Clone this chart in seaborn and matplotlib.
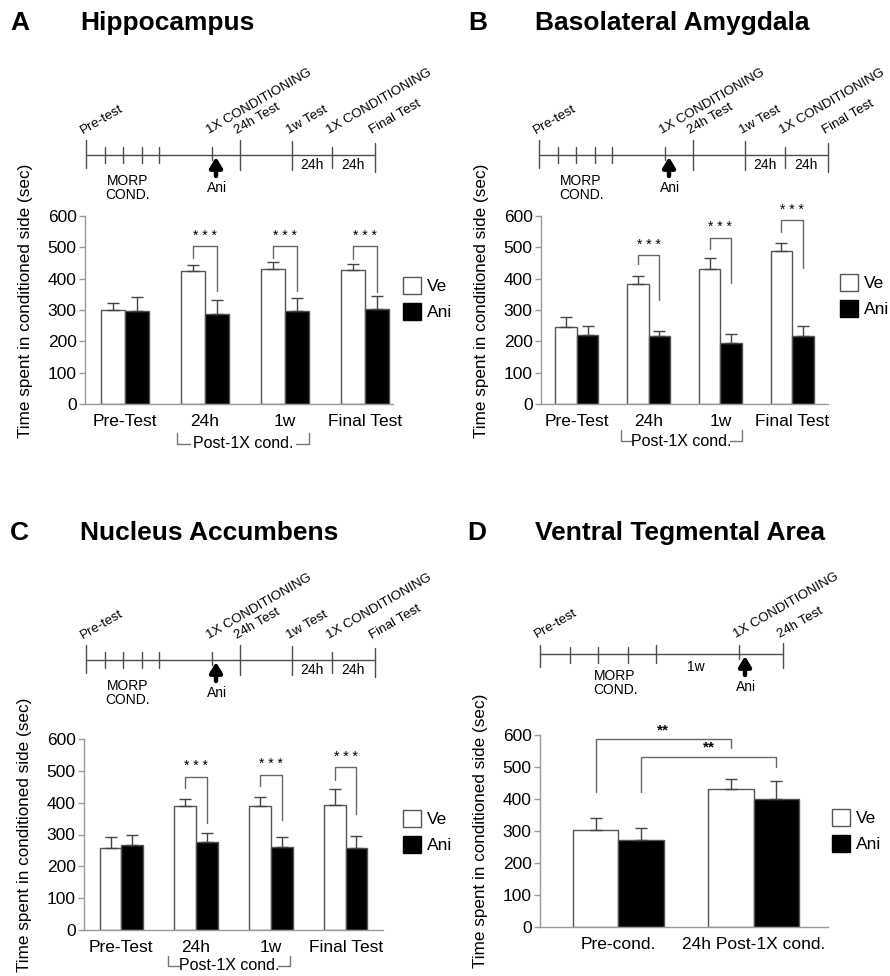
import matplotlib
matplotlib.use("Agg")
import matplotlib.pyplot as plt
import seaborn as sns
import numpy as np
import pandas as pd
from matplotlib.patches import Patch
from matplotlib.transforms import blended_transform_factory

sns.set_theme(style="white")
plt.rcParams['font.family'] = ['Liberation Sans', 'DejaVu Sans']
plt.rcParams['text.color'] = 'black'
plt.rcParams['axes.labelcolor'] = 'black'
plt.rcParams['xtick.color'] = 'black'
plt.rcParams['ytick.color'] = 'black'

# ---------------- data ----------------
groups = ["Ve", "Ani"]

A_categories = ["Pre-Test", "24h", "1w", "Final Test"]
A_ve = [300, 424, 431, 427]
A_ve_err = [22, 21, 21, 21]
A_ani = [297, 286, 297, 302]
A_ani_err = [43, 47, 42, 42]

B_categories = ["Pre-Test", "24h", "1w", "Final Test"]
B_ve = [247, 382, 432, 487]
B_ve_err = [32, 28, 35, 28]
B_ani = [219, 216, 195, 216]
B_ani_err = [29, 18, 28, 32]

C_categories = ["Pre-Test", "24h", "1w", "Final Test"]
C_ve = [259, 388, 388, 392]
C_ve_err = [32, 24, 31, 51]
C_ani = [268, 278, 262, 257]
C_ani_err = [32, 26, 29, 37]

D_categories = ["Pre-cond.", "24h Post-1X cond."]
D_ve = [303, 430]
D_ve_err = [37, 33]
D_ani = [273, 400]
D_ani_err = [35, 55]

# significance brackets (group index, left foot, bracket level, right foot) in data units
A_sig = [(1, 465, 503, 362), (2, 465, 503, 362), (3, 463, 503, 358)]
B_sig = [(1, 446, 474, 332), (2, 496, 531, 387), (3, 550, 586, 435)]
C_sig = [(1, 446, 481, 336), (2, 453, 488, 346), (3, 472, 511, 365)]
sig_label = "* * *"

# ---------------- figure ----------------
W, H = 890, 976
fig = plt.figure(figsize=(W / 100, H / 100), dpi=100)
fig.patch.set_facecolor("white")

over = fig.add_axes([0, 0, 1, 1])
over.set_xlim(0, W)
over.set_ylim(H, 0)
over.axis("off")
over.set_facecolor("none")

EDGE = "#555555"
LINE = "#4d4d4d"


def px_rect(left, top, right, bottom):
    return [left / W, 1 - bottom / H, (right - left) / W, (bottom - top) / H]


def bar_panel(rect, cats, ve, ve_err, ani, ani_err, xlim, width, legend_xy,
              ylab_y=0.5):
    ax = fig.add_axes(px_rect(*rect))
    df = pd.DataFrame({
        "cat": cats * 2,
        "group": ["Ve"] * len(cats) + ["Ani"] * len(cats),
        "value": ve + ani,
    })
    sns.barplot(data=df, x="cat", y="value", hue="group", hue_order=groups,
                order=cats, palette={"Ve": "white", "Ani": "black"},
                width=width, errorbar=None, edgecolor=EDGE, linewidth=1.0,
                saturation=1, legend=False, ax=ax)
    centers = []
    for cont, errs in zip(ax.containers, [ve_err, ani_err]):
        xs = [b.get_x() + b.get_width() / 2 for b in cont]
        ys = [b.get_height() for b in cont]
        centers.append(xs)
        ax.errorbar(xs, ys, yerr=[np.zeros(len(errs)), errs], fmt="none",
                    ecolor="#444444", elinewidth=1.0, capsize=4, capthick=1.0,
                    zorder=1)
    ax.set_ylim(0, 600)
    ax.set_yticks(range(0, 601, 100))
    ax.set_xlim(*xlim)
    sns.despine(ax=ax)
    for s in ["left", "bottom"]:
        ax.spines[s].set_color("#9a9a9a")
        ax.spines[s].set_linewidth(1.0)
    ax.tick_params(axis="y", left=True, length=4, width=1, color="#9a9a9a",
                   labelsize=12.5, pad=2, direction="out")
    ax.tick_params(axis="x", length=0, labelsize=12.5, pad=7)
    ax.set_xlabel("")
    ax.set_ylabel("Time spent in conditioned side (sec)", fontsize=12.3)
    wpx = rect[2] - rect[0]
    ax.yaxis.set_label_coords(-52 / wpx, ylab_y)
    ax.set_facecolor("none")
    handles = [Patch(facecolor="white", edgecolor=EDGE, label="Ve"),
               Patch(facecolor="black", edgecolor="black", label="Ani")]
    fig.legend(handles=handles, loc="upper left",
               bbox_to_anchor=(legend_xy[0] / W, 1 - legend_xy[1] / H),
               frameon=False, fontsize=12.5, handlelength=1.05,
               handleheight=1.1, handletextpad=0.35, labelspacing=0.5,
               borderpad=0, borderaxespad=0)
    return ax, centers


def add_sig(ax, centers, sig):
    for g, lf, lev, rf in sig:
        xl = centers[0][g]
        xr = centers[1][g]
        ax.plot([xl, xl, xr, xr], [lf, lev, lev, rf], color="#666666",
                lw=1.0, clip_on=False)
        ax.text((xl + xr) / 2, lev + 12, sig_label, ha="center", va="bottom",
                fontsize=10, clip_on=False)


def post_bracket(ax, x0, x1, ypx_below, height_px):
    tr = blended_transform_factory(ax.transData, ax.transAxes)
    hpx = ax.get_position().height * H
    yb = -ypx_below / hpx
    yt = -(ypx_below - height_px) / hpx
    xm = (x0 + x1) / 2
    ax.text(xm, yb, "Post-1X cond.", transform=tr, ha="center",
            va="center", fontsize=11.5, clip_on=False)
    ax.plot([x0, x0, x0 + 0.16], [yt, yb, yb], transform=tr, color="#777777",
            lw=1.0, clip_on=False)
    ax.plot([x1 - 0.16, x1, x1], [yb, yb, yt], transform=tr,
            color="#777777", lw=1.0, clip_on=False)


def title(x_letter, x_text, y, letter, text):
    over.text(x_letter, y, letter, fontsize=19, fontweight="bold",
              ha="left", va="center")
    over.text(x_text, y, text, fontsize=19, fontweight="bold",
              ha="left", va="center")


def timeline(x0, y, rel, ext, labels, arrow_rel, morp_rel, morp_dy,
             ani_dy, extra, lab_dy=21):
    xs = [x0 + r for r in rel]
    over.plot([xs[0], xs[-1]], [y, y], color=LINE, lw=1.0)
    for x, (up, dn) in zip(xs, ext):
        over.plot([x, x], [y - up, y + dn], color=LINE, lw=1.0)
    for i, lab in labels.items():
        over.text(xs[i] - 3, y - lab_dy, lab, rotation=30,
                  rotation_mode="anchor", ha="left", va="baseline",
                  fontsize=9.6)
    ax_ = x0 + arrow_rel
    over.annotate("", xy=(ax_, y + 2), xytext=(ax_, y + 21),
                  arrowprops=dict(arrowstyle="-|>,head_width=0.3,head_length=0.5",
                                  color="black", lw=3.2, shrinkA=0, shrinkB=0,
                                  mutation_scale=12))
    over.text(ax_ + 1, y + ani_dy, "Ani", ha="center", va="center",
              fontsize=10)
    over.text(x0 + morp_rel, y + morp_dy, "MORP\nCOND.", ha="center",
              va="center", fontsize=10, linespacing=1.05)
    for (r, dy, t) in extra:
        over.text(x0 + r, y + dy, t, ha="center", va="center", fontsize=10)


# timeline layouts (schematic)
tl_rel = [0, 19, 37, 56, 73, 126, 154, 206, 246, 289]
tl_ext = [(15, 13), (8, 8), (8, 8), (8, 8), (8, 8), (8, 5), (15, 15),
          (14, 15), (8, 13), (12, 17)]
tl_labels = {0: "Pre-test", 5: "1X CONDITIONING", 6: "24h Test",
             7: "1w Test", 8: "1X CONDITIONING", 9: "Final Test"}
tl_extra = [(226, 10, "24h"), (267, 10, "24h")]

tlD_rel = [0, 30, 58, 88, 116, 199, 243]
tlD_ext = [(9, 13), (7, 9), (7, 9), (7, 9), (9, 9), (9, 5), (11, 14)]
tlD_labels = {0: "Pre-test", 5: "1X CONDITIONING", 6: "24h Test"}
tlD_extra = [(156, 13, "1w")]

# ---------- Panel A ----------
title(10, 80, 23, "A", "Hippocampus")
timeline(86, 155, tl_rel, tl_ext, tl_labels, 130, 42, 33, 33, tl_extra)
axA, cA = bar_panel((85, 216, 393, 404), A_categories, A_ve, A_ve_err,
                    A_ani, A_ani_err, (-0.5, 3.35), 0.59, (403, 277), 0.55)
add_sig(axA, cA, A_sig)
post_bracket(axA, 0.65, 2.3, 40, 11)

# ---------- Panel B ----------
title(468, 535, 23, "B", "Basolateral Amygdala")
timeline(539, 155, tl_rel, tl_ext, tl_labels, 130, 42, 33, 33, tl_extra)
axB, cB = bar_panel((541, 216, 828, 404), B_categories, B_ve, B_ve_err,
                    B_ani, B_ani_err, (-0.5, 3.5), 0.6, (840, 274), 0.55)
add_sig(axB, cB, B_sig)
post_bracket(axB, 0.62, 2.3, 37, 11)

# ---------- Panel C ----------
title(10, 80, 533, "C", "Nucleus Accumbens")
timeline(86, 660, tl_rel, tl_ext, tl_labels, 130, 42, 33, 33, tl_extra)
axC, cC = bar_panel((84, 739, 383, 930), C_categories, C_ve, C_ve_err,
                    C_ani, C_ani_err, (-0.5, 3.5), 0.58, (403, 810))
add_sig(axC, cC, C_sig)
post_bracket(axC, 0.63, 2.25, 36, 10)

# ---------- Panel D ----------
title(467, 535, 533, "D", "Ventral Tegmental Area")
timeline(540, 654, tlD_rel, tlD_ext, tlD_labels, 205, 75, 29, 33, tlD_extra,
         lab_dy=16)
axD, cD = bar_panel((540, 735, 828, 927), D_categories, D_ve, D_ve_err,
                    D_ani, D_ani_err, (-0.58, 1.55), 0.67, (832, 809))
# D brackets: Ve pre -> Ve 24h, Ani pre -> Ani 24h
D_sig = [(0, 423, 587, 558, "**"), (1, 423, 532, 501, "**")]
for hue_i, lf, lev, rf, lab in D_sig:
    xl = cD[hue_i][0]
    xr = cD[hue_i][1]
    axD.plot([xl, xl, xr, xr], [lf, lev, lev, rf], color="#666666", lw=1.0,
             clip_on=False)
    axD.text((xl + xr) / 2, lev + 6, lab, ha="center", va="bottom",
             fontsize=11, fontweight="bold", clip_on=False)

fig.savefig("out.png", dpi=100, facecolor="white")
